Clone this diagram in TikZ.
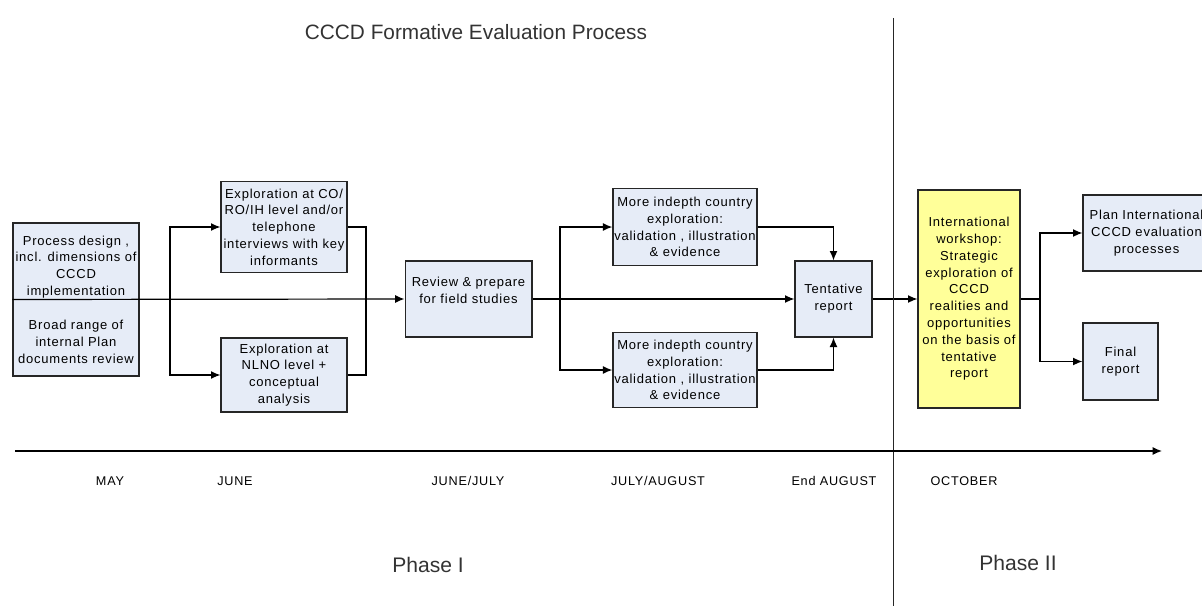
\documentclass[tikz,border=0pt]{standalone}
\usepackage{fontspec}
\setmainfont{Liberation Sans}
\usepackage{tikz,xcolor}
\usetikzlibrary{positioning,arrows.meta}
\definecolor{boxfill}{HTML}{E6ECF7}
\definecolor{wsfill}{HTML}{FFFF99}

\begin{document}
\begin{tikzpicture}[
        x=0.75pt, y=-0.75pt,
        step box/.style={rectangle, draw=black!85, line width=1pt, fill=boxfill, align=center, inner sep=1pt, font=\fontsize{9.75}{12.6}\selectfont\addfontfeatures{LetterSpace=6}},
        flow/.style={draw, line width=0.9pt, -{Latex[length=7pt,width=6pt]}},
        link/.style={draw, line width=0.9pt},
        month/.style={font=\fontsize{9.5}{11}\selectfont\addfontfeatures{LetterSpace=6}},
        phase/.style={text=black!80, font=\fontsize{15.8}{18}\selectfont}
    ]
        \useasboundingbox (0,0) rectangle (1202,606);

        % Title
        \node[text=black!80, font=\fontsize{15.6}{18}\selectfont] (TITLE) at (476,32) {CCCD Formative Evaluation Process};

        % Define boxes
        \node[step box, minimum width=94.5pt, minimum height=114.75pt] (PREP) at (76,299.5) {Process design ,\\incl. dimensions of\\CCCD\\implementation\\[13pt]Broad range of\\internal Plan\\documents review};
        \node[step box, minimum width=94.5pt, minimum height=68pt] (EXPA) at (284,227) {Exploration at CO/\\RO/IH level and/or\\telephone\\interviews with key\\informants};
        \node[step box, minimum width=94.5pt, minimum height=55.5pt] (EXPB) at (284,375) {Exploration at\\NLNO level +\\conceptual\\analysis};
        \node[step box, minimum width=95pt, minimum height=57pt] (REVIEW) at (468.5,299) {Review \& prepare\\for field studies\\\mbox{}};
        \node[step box, minimum width=106.5pt, minimum height=57.75pt] (DEEPA) at (685,227) {More indepth country\\exploration:\\validation , illustration\\\& evidence};
        \node[step box, minimum width=106.5pt, minimum height=56.25pt] (DEEPB) at (685,370) {More indepth country\\exploration:\\validation , illustration\\\& evidence};
        \node[step box, minimum width=57.75pt, minimum height=57pt] (TENT) at (833.5,299) {Tentative\\report};
        \node[step box, fill=wsfill, minimum width=76.5pt, minimum height=163.5pt] (WORKSHOP) at (969,299) {International\\workshop:\\Strategic\\exploration of\\CCCD\\realities and\\opportunities\\on the basis of\\tentative\\report};
        \node[step box, minimum width=95.25pt, minimum height=57pt] (PLAN) at (1146.5,233) {Plan International\\CCCD evaluation\\processes};
        \node[step box, minimum width=56.25pt, minimum height=57.75pt] (FINAL) at (1120.5,361.5) {Final\\report};

        % Split and join points
        \coordinate (S1) at (170,299);
        \coordinate (J1) at (366,299);
        \coordinate (S2) at (560,299);
        \coordinate (S3) at (1040,299);

        % Main flow
        \draw[flow] (PREP.west) -- (REVIEW.west);
        \draw[flow] (REVIEW.east) -- (TENT.west);
        \draw[flow] (TENT.east) -- (WORKSHOP.west);
        \draw[link] (WORKSHOP.east) -- (S3);

        % June explorations
        \draw[flow] (S1) |- (EXPA.west);
        \draw[flow] (S1) |- (EXPB.west);
        \draw[link] (EXPA.east) -| (J1) |- (EXPB.east);

        % Field studies
        \draw[flow] (S2) |- (DEEPA.west);
        \draw[flow] (S2) |- (DEEPB.west);
        \draw[flow] (DEEPA.east) -| (TENT.north);
        \draw[flow] (DEEPB.east) -| (TENT.south);

        % Outcomes
        \draw[flow] (S3) |- (PLAN.west);
        \draw[flow] (S3) |- (FINAL.west);

        % Phase divider
        \coordinate (DTOP) at (893,18);
        \coordinate (DBOT) at (893,606);
        \draw[line width=0.6pt, black!85] (DTOP) -- (DBOT);

        % Time line
        \coordinate (T0) at (15,451);
        \coordinate (T1) at (1162,451);
        \draw[flow] (T0) -- (T1);

        \node[month] (MAY) at (110,481) {MAY};
        \node[month] (JUNE) at (235,481) {JUNE};
        \node[month] (JUNEJULY) at (468,481) {JUNE/JULY};
        \node[month] (JULYAUG) at (658,481) {JULY/AUGUST};
        \node[month] (ENDAUG) at (834,481) {End AUGUST};
        \node[month] (OCT) at (964,481) {OCTOBER};

        \node[phase] (PHASEA) at (428,565) {Phase I};
        \node[phase] (PHASEB) at (1018,563) {Phase II};

    \end{tikzpicture}
\end{document}
